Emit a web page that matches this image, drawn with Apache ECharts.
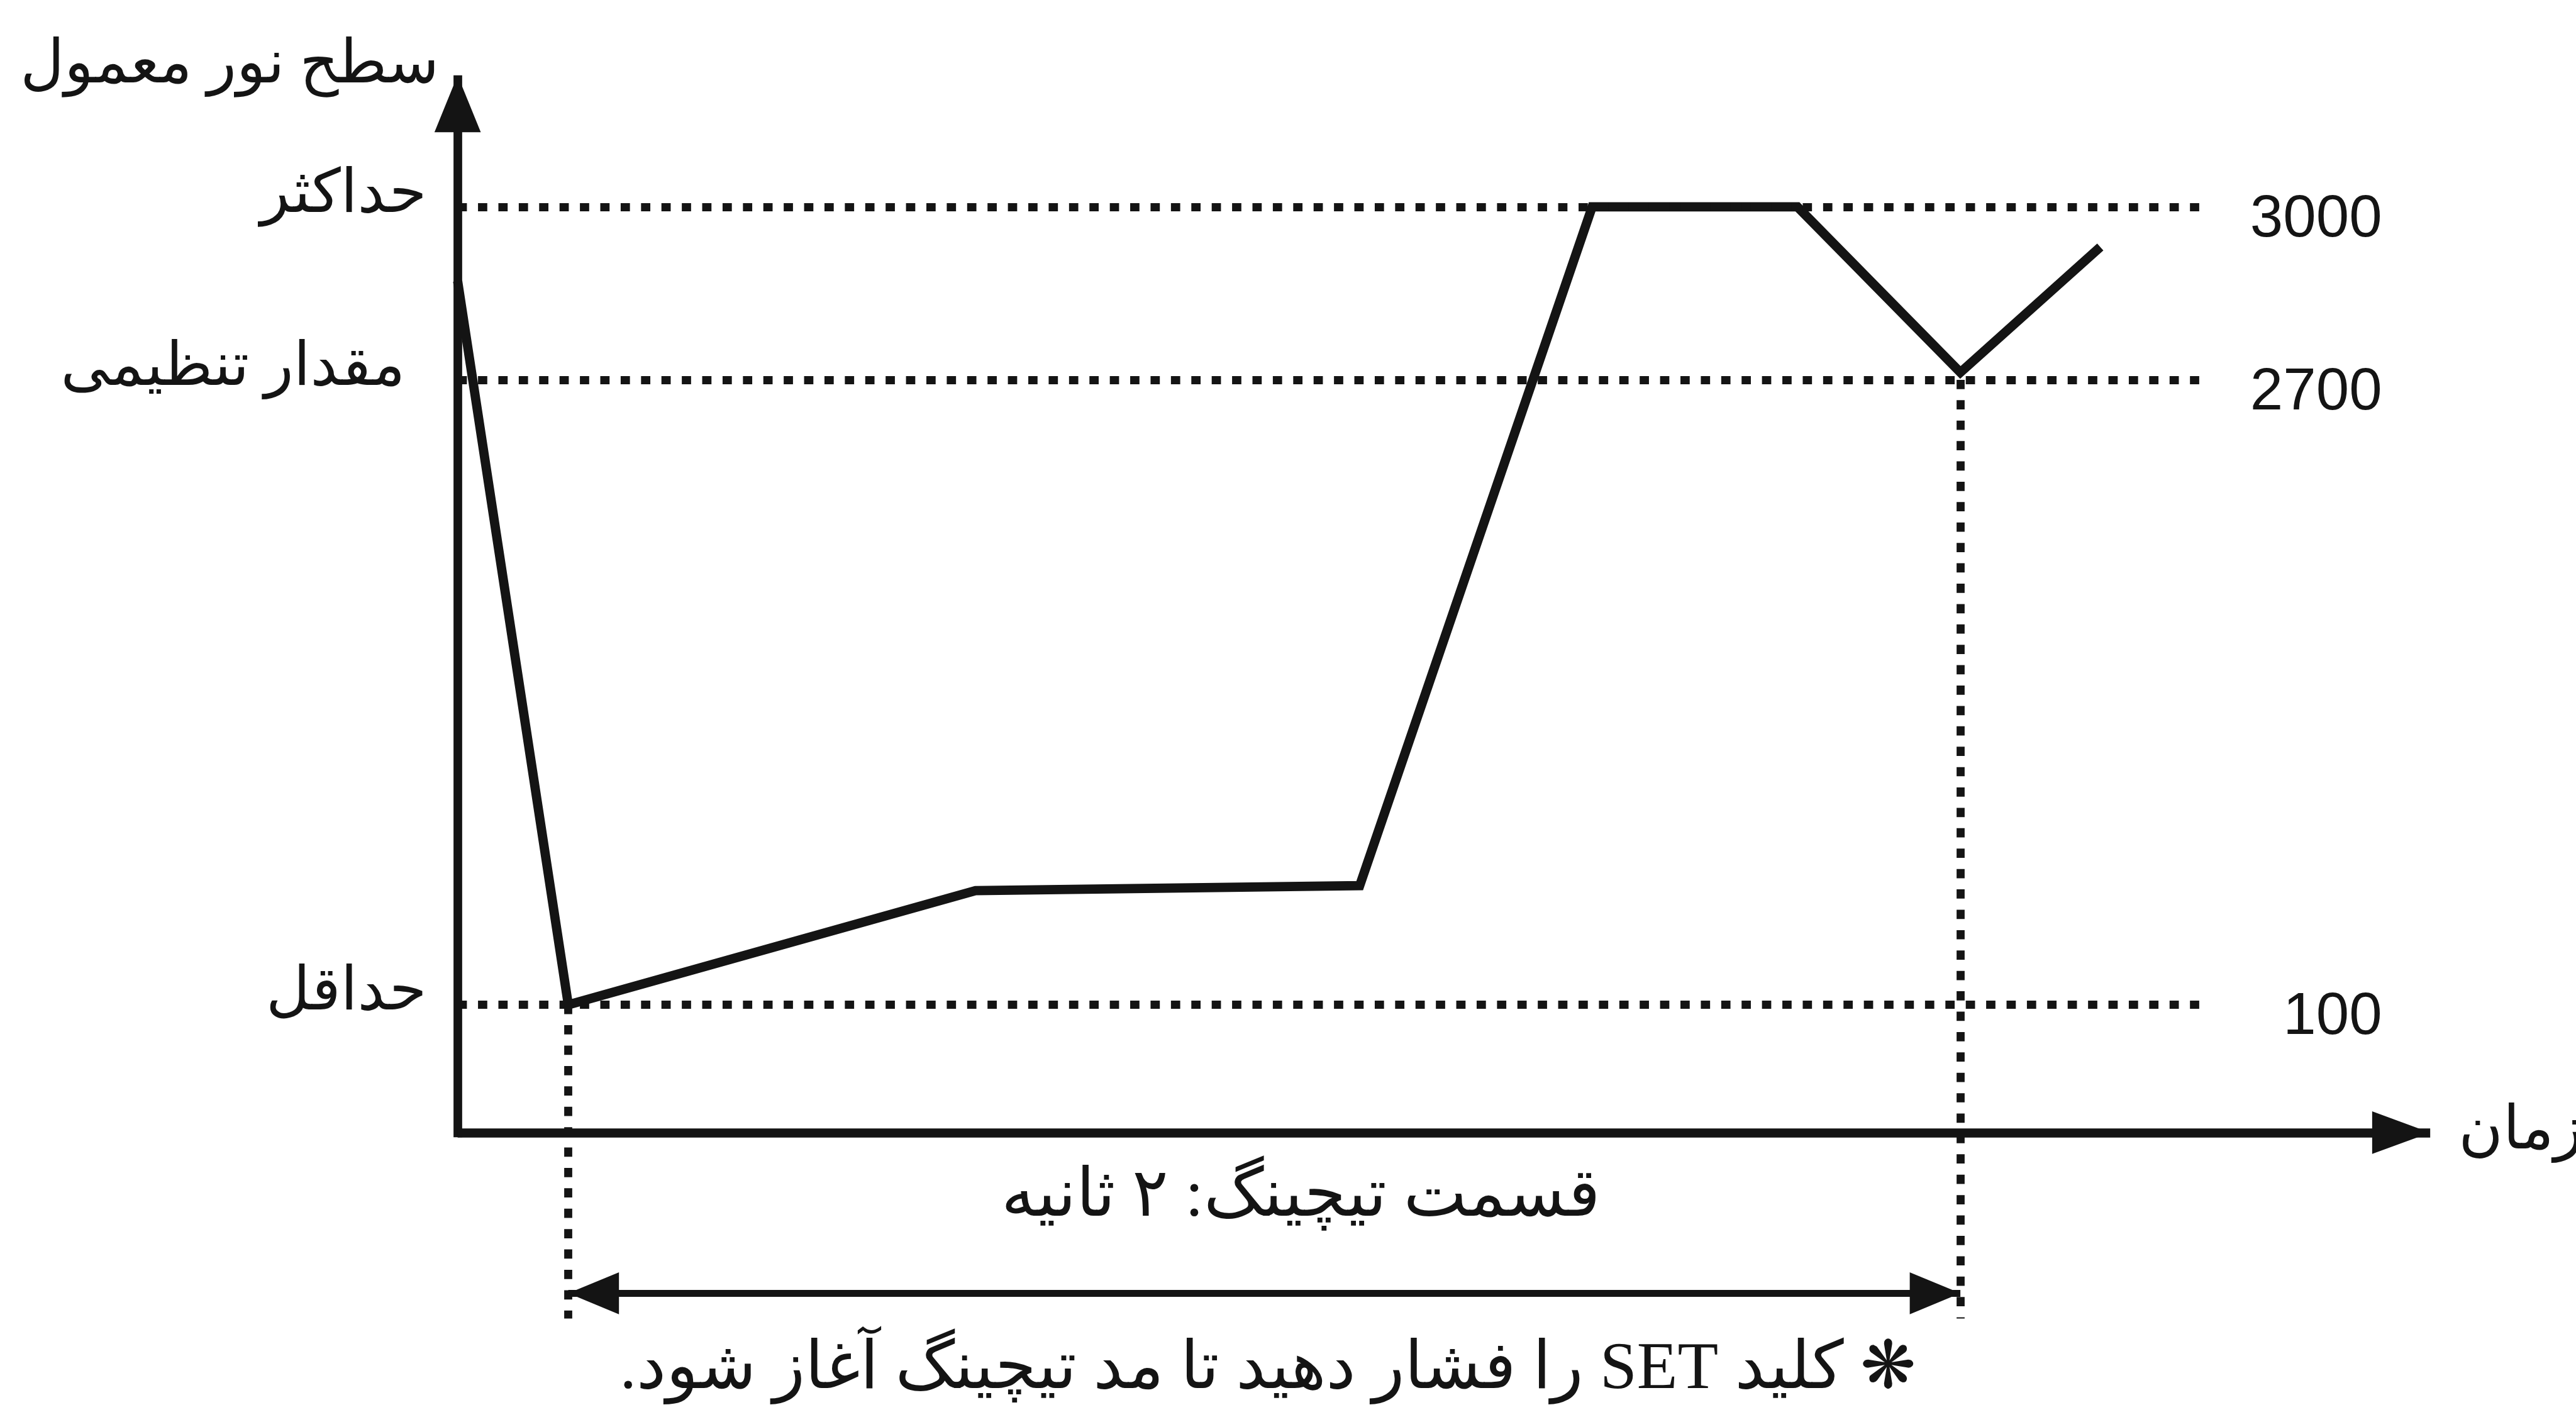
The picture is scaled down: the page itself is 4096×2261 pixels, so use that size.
<!DOCTYPE html>
<html lang="fa">
<head>
    <meta charset="UTF-8">
    <title>سطح نور معمول — قسمت تیچینگ</title>
    <script src="https://cdn.jsdelivr.net/npm/echarts/dist/echarts.min.js"></script>
    <style>
        html, body {
            margin: 0;
            padding: 0;
            background-color: #fff;
        }
        #chart {
            width: 4096px;
            height: 2261px;
        }
    </style>
</head>
<body>
<div id="chart" dir="rtl"></div>

<script>
    // زمان (ثانیه) و سطح نور؛ محور عمودی شماتیک است، نه خطی
    const timeSec    = [0, 0.159, 0.744, 1.296, 1.630, 1.925, 2.159, 2.360];
    const lightLevel = [137.9, 20.7, 39.2, 40.0, 149.9, 149.9, 123.1, 143.4];

    // سطوح مرجع و برچسب‌ها
    const levelValues   = [20.7, 121.9, 149.9];
    const levelNames    = ["حداقل", "مقدار تنظیمی", "حداکثر"];
    const levelReadings = ["100", "2700", "3000"];

    // قسمت تیچینگ: ۲ ثانیه
    const teachStart = 0.159;
    const teachEnd = 2.159;
    const spanLevel = -26.0;

    // حدود محورها
    const guideEnd = 2.517;
    const timeMax = 2.834;
    const levelMin = -30.1;
    const levelMax = 171.2;

    const S = 0.982;
    const FA = "'Liberation Serif', 'DejaVu Sans', sans-serif";
    const NUM = "'Liberation Sans', Arial, sans-serif";
    const INK = "#141414";
    const P = 98 * S;

    const AXIS_W = 15 * S;
    const gridTop = 122 * S;
    const gridBottom = 2135 * S;
    const unitPx = (gridBottom - gridTop) / (levelMax - levelMin);
    // پایین محور عمودی تا لبه محور افقی ادامه پیدا کند
    const axisFoot = -(AXIS_W / 2) / unitPx;

    const dotted = { type: [15 * S, 18 * S], width: 13 * S, color: INK };
    const solid = (w) => ({ type: "solid", width: w * S, color: INK });
    const tip = (w, h) => ({
        symbol: "triangle",
        symbolSize: [w * S, h * S],
        symbolOffset: [0, (h / 2) * S]
    });

    const guides = [];
    levelValues.forEach((lv) => {
        guides.push([{ coord: [0, lv], lineStyle: dotted }, { coord: [guideEnd, lv] }]);
    });
    guides.push([{ coord: [teachStart, levelValues[0]], lineStyle: dotted }, { coord: [teachStart, levelMin] }]);
    guides.push([{ coord: [teachEnd, levelValues[1]], lineStyle: dotted }, { coord: [teachEnd, levelMin] }]);

    const arrows = [
        [{ coord: [0, axisFoot], lineStyle: solid(14) }, Object.assign({ coord: [0, levelMax] }, tip(75, 92))],
        [{ coord: [0, 0], lineStyle: solid(15) }, Object.assign({ coord: [timeMax, 0] }, tip(69, 94))],
        [
            Object.assign({
                coord: [teachStart, spanLevel],
                lineStyle: solid(11),
                label: {
                    show: true,
                    position: "insideMiddleTop",
                    distance: 100 * S,
                    formatter: "قسمت تیچینگ: ۲ ثانیه",
                    fontFamily: FA,
                    fontSize: P * 1.11,
                    color: INK,
                    padding: [0, 0, 0, 118 * S]
                }
            }, tip(68, 82)),
            Object.assign({ coord: [teachEnd, spanLevel] }, tip(68, 82))
        ]
    ];

    const chart = echarts.init(document.getElementById("chart"), null, { renderer: "canvas" });

    chart.setOption({
        backgroundColor: "#fff",
        animation: false,
        title: {
            text: "❋ کلید SET را فشار دهید تا مد تیچینگ آغاز شود.",
            left: 2048 * S,
            top: 2160 * S,
            textAlign: "center",
            textStyle: { fontFamily: FA, fontSize: P * 1.1, fontWeight: "normal", color: INK }
        },
        grid: {
            left: 741 * S,
            right: 4096 - 3935 * S,
            top: gridTop,
            bottom: 2261 - gridBottom,
            containLabel: false,
            outerBoundsMode: "none"
        },
        xAxis: {
            type: "value",
            min: 0,
            max: timeMax,
            axisLine: { show: false, onZero: true },
            axisTick: { show: false },
            axisLabel: { show: false },
            splitLine: { show: false },
            name: "زمان",
            nameLocation: "end",
            nameGap: 46 * S,
            nameMoveOverlap: false,
            nameTextStyle: {
                fontFamily: FA, fontSize: P, color: INK,
                align: "left", verticalAlign: "middle",
                padding: [6 * S, 0, 0, 0]
            }
        },
        yAxis: [
            {
                type: "value",
                min: levelMin,
                max: levelMax,
                position: "left",
                axisLine: { show: false, onZero: false },
                axisTick: { show: false },
                splitLine: { show: false },
                axisLabel: {
                    customValues: levelValues,
                    margin: 50 * S,
                    fontFamily: FA,
                    fontSize: P,
                    color: INK,
                    formatter: (v) => {
                        const i = levelValues.indexOf(v);
                        return i === 1 ? "{wide|" + levelNames[i] + "}" : "{base|" + levelNames[i] + "}";
                    },
                    rich: {
                        base: { fontFamily: FA, fontSize: P, color: INK, padding: [0, 0, 36 * S, 0] },
                        wide: { fontFamily: FA, fontSize: P, color: INK, padding: [0, 35 * S, 36 * S, 0] }
                    }
                },
                name: "سطح نور معمول",
                nameLocation: "end",
                nameGap: 14 * S,
                nameMoveOverlap: false,
                nameTextStyle: {
                    fontFamily: FA, fontSize: P, color: INK,
                    align: "right", verticalAlign: "middle",
                    padding: [0, 30 * S, 0, 0]
                }
            },
            {
                type: "value",
                min: levelMin,
                max: levelMax,
                position: "right",
                offset: -(3935 - 3857) * S,
                axisLine: { show: false, onZero: false },
                axisTick: { show: false },
                splitLine: { show: false },
                axisLabel: {
                    customValues: levelValues,
                    inside: true,
                    margin: 0,
                    fontFamily: NUM,
                    fontSize: 96 * S,
                    color: INK,
                    verticalAlign: "top",
                    lineHeight: 42 * S,
                    formatter: (v) => levelReadings[levelValues.indexOf(v)]
                }
            }
        ],
        series: [
            {
                name: "سطح نور",
                type: "line",
                data: timeSec.map((t, i) => [t, lightLevel[i]]),
                symbol: "none",
                clip: false,
                silent: true,
                z: 3,
                lineStyle: { color: INK, width: 15 * S, join: "miter", miterLimit: 10 },
                markLine: {
                    silent: true,
                    animation: false,
                    symbol: ["none", "none"],
                    label: { show: false },
                    emphasis: { disabled: true },
                    lineStyle: { color: INK },
                    data: guides.concat(arrows)
                }
            }
        ]
    });
</script>
</body>
</html>
